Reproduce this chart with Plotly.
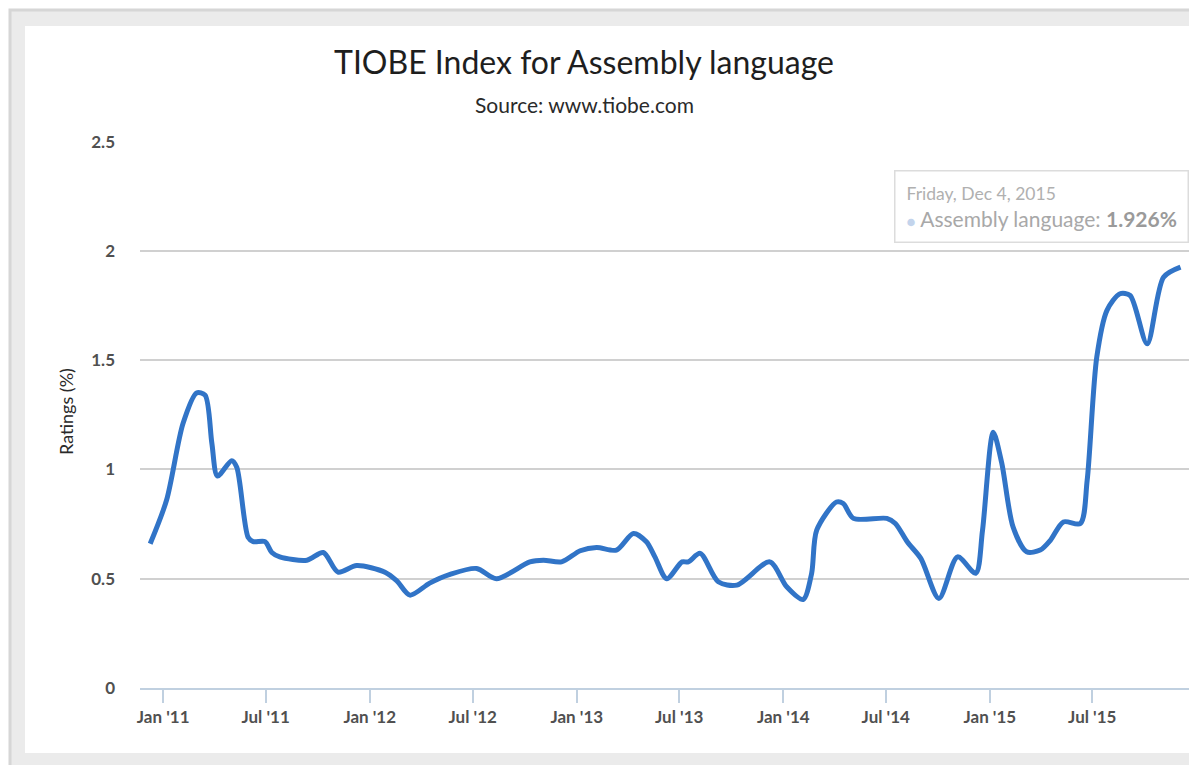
import plotly.graph_objects as go

# ---- data ----
dates = [
    "2010-12-09", "2011-01-07", "2011-02-05", "2011-03-01", "2011-03-16", "2011-03-28",
    "2011-04-07", "2011-05-02", "2011-05-11", "2011-05-31", "2011-06-09", "2011-06-30",
    "2011-07-12", "2011-07-26", "2011-09-12", "2011-10-11", "2011-11-06", "2011-12-09",
    "2012-01-28", "2012-02-18", "2012-03-12", "2012-04-16", "2012-05-22", "2012-07-08",
    "2012-08-12", "2012-10-10", "2012-11-03", "2012-12-05", "2013-01-07", "2013-02-05",
    "2013-03-12", "2013-04-11", "2013-05-04", "2013-05-19", "2013-06-09", "2013-07-06",
    "2013-07-17", "2013-08-07", "2013-09-08", "2013-10-11", "2013-12-08", "2014-01-07",
    "2014-02-05", "2014-02-20", "2014-03-01", "2014-04-05", "2014-04-17", "2014-05-05",
    "2014-07-03", "2014-07-18", "2014-08-08", "2014-09-01", "2014-10-03", "2014-11-05",
    "2014-12-07", "2014-12-19", "2015-01-07", "2015-01-22", "2015-02-11", "2015-03-07",
    "2015-03-31", "2015-04-18", "2015-05-11", "2015-06-10", "2015-06-22", "2015-07-09",
    "2015-07-27", "2015-08-19", "2015-09-06", "2015-10-06", "2015-11-04", "2015-12-04",
]
ratings = [
    0.66, 0.86, 1.21, 1.35, 1.34, 1.12,
    0.97, 1.04, 1.01, 0.69, 0.67, 0.67,
    0.62, 0.60, 0.585, 0.62, 0.53, 0.56,
    0.53, 0.49, 0.425, 0.48, 0.52, 0.547,
    0.50, 0.577, 0.585, 0.577, 0.628, 0.643,
    0.631, 0.707, 0.669, 0.60, 0.50, 0.577,
    0.577, 0.616, 0.486, 0.471, 0.577, 0.463,
    0.405, 0.524, 0.722, 0.851, 0.844, 0.776,
    0.776, 0.753, 0.669, 0.593, 0.41, 0.60,
    0.525, 0.72, 1.17, 1.03, 0.737, 0.623,
    0.631, 0.676, 0.76, 0.753, 0.95, 1.514,
    1.728, 1.804, 1.796, 1.575, 1.88, 1.926,
]
series_name = "Assembly language"
title_text = "TIOBE Index for Assembly language"
subtitle_text = "Source: www.tiobe.com"
y_title = "Ratings (%)"
tooltip_date = "Friday, Dec 4, 2015"
y_ticks = [0, 0.5, 1, 1.5, 2, 2.5]
y_ticklabels = ["0", "0.5", "1", "1.5", "2", "2.5"]

# ---- layout geometry ----
W, H = 1189, 765
L, R, T, B = 140, 0, 141, 77
PW, PH = W - L - R, H - T - B


def px2x(px):
    return (px - L) / PW


def py2y(py):
    return (H - B - py) / PH


FONT = "Lato"
TXT = "#505050"

fig = go.Figure()
fig.add_trace(go.Scatter(
    x=dates, y=ratings, mode="lines", name=series_name,
    line=dict(color="#3174c7", width=5, shape="spline", smoothing=0.8),
    hoverinfo="skip",
))

shapes = [
    dict(type="rect", xref="paper", yref="paper", layer="below",
         x0=px2x(10), x1=px2x(1400), y0=py2y(900), y1=py2y(10),
         fillcolor="#ebebeb", line=dict(color="#d6d6d6", width=3)),
    dict(type="rect", xref="paper", yref="paper", layer="below",
         x0=px2x(25), x1=px2x(1400), y0=py2y(753), y1=py2y(26),
         fillcolor="#ffffff", line=dict(width=0)),
]

annotations = [
    dict(text=title_text, xref="paper", yref="paper", x=px2x(584), y=py2y(61),
         xanchor="center", yanchor="middle", showarrow=False,
         font=dict(family=FONT, size=32, color="#1e1e1e")),
    dict(text=subtitle_text, xref="paper", yref="paper", x=px2x(584), y=py2y(104),
         xanchor="center", yanchor="middle", showarrow=False,
         font=dict(family=FONT, size=21, color="#2a2a2a")),
    dict(text=y_title, xref="paper", yref="paper", x=px2x(66), y=py2y(412),
         xanchor="center", yanchor="middle", showarrow=False, textangle=-90,
         font=dict(family=FONT, size=18, color="#2a2a2a")),
    dict(text=(f"<span style='color:#b0b0b0;font-size:17.5px'>{tooltip_date}</span><br>"
               f"<span style='color:#c3d4ec;font-size:15px'>●</span> "
               f"<span style='color:#a8a8a8'>{series_name}: </span>"
               f"<b style='color:#9a9a9a'>{ratings[-1]}%</b>"),
         x=dates[-1], y=ratings[-1], xref="x", yref="y", showarrow=False,
         xanchor="left", yanchor="bottom", xshift=-287, yshift=24, align="left",
         bgcolor="rgba(255,255,255,0.92)", bordercolor="#dcdcdc", borderwidth=1.5,
         borderpad=11, font=dict(family=FONT, size=21, color="#a8a8a8")),
]

fig.update_layout(
    width=W, height=H, autosize=False,
    margin=dict(l=L, r=R, t=T, b=B, pad=0),
    paper_bgcolor="#ffffff", plot_bgcolor="rgba(0,0,0,0)",
    showlegend=False,
    shapes=shapes, annotations=annotations,
    xaxis=dict(
        type="date", range=["2010-11-21", "2015-12-19"],
        tick0="2011-01-01", dtick="M6", tickformat="%b '%y",
        showgrid=False, zeroline=False,
        showline=True, linecolor="#c0d0e0", linewidth=2,
        ticks="outside", ticklen=13, tickwidth=1.5, tickcolor="#c0d0e0",
        tickfont=dict(family=FONT, size=17, color=TXT, weight="bold"),
        ticklabelstandoff=0,
    ),
    yaxis=dict(
        range=[0, 2.503], tickvals=y_ticks, ticktext=y_ticklabels,
        showgrid=True, gridcolor="#d0d0d0", gridwidth=1.5,
        zeroline=False, showline=False, ticks="",
        tickfont=dict(family=FONT, size=17, color=TXT, weight="bold"),
        ticklabelstandoff=24,
    ),
)

fig.write_html("out.html")
